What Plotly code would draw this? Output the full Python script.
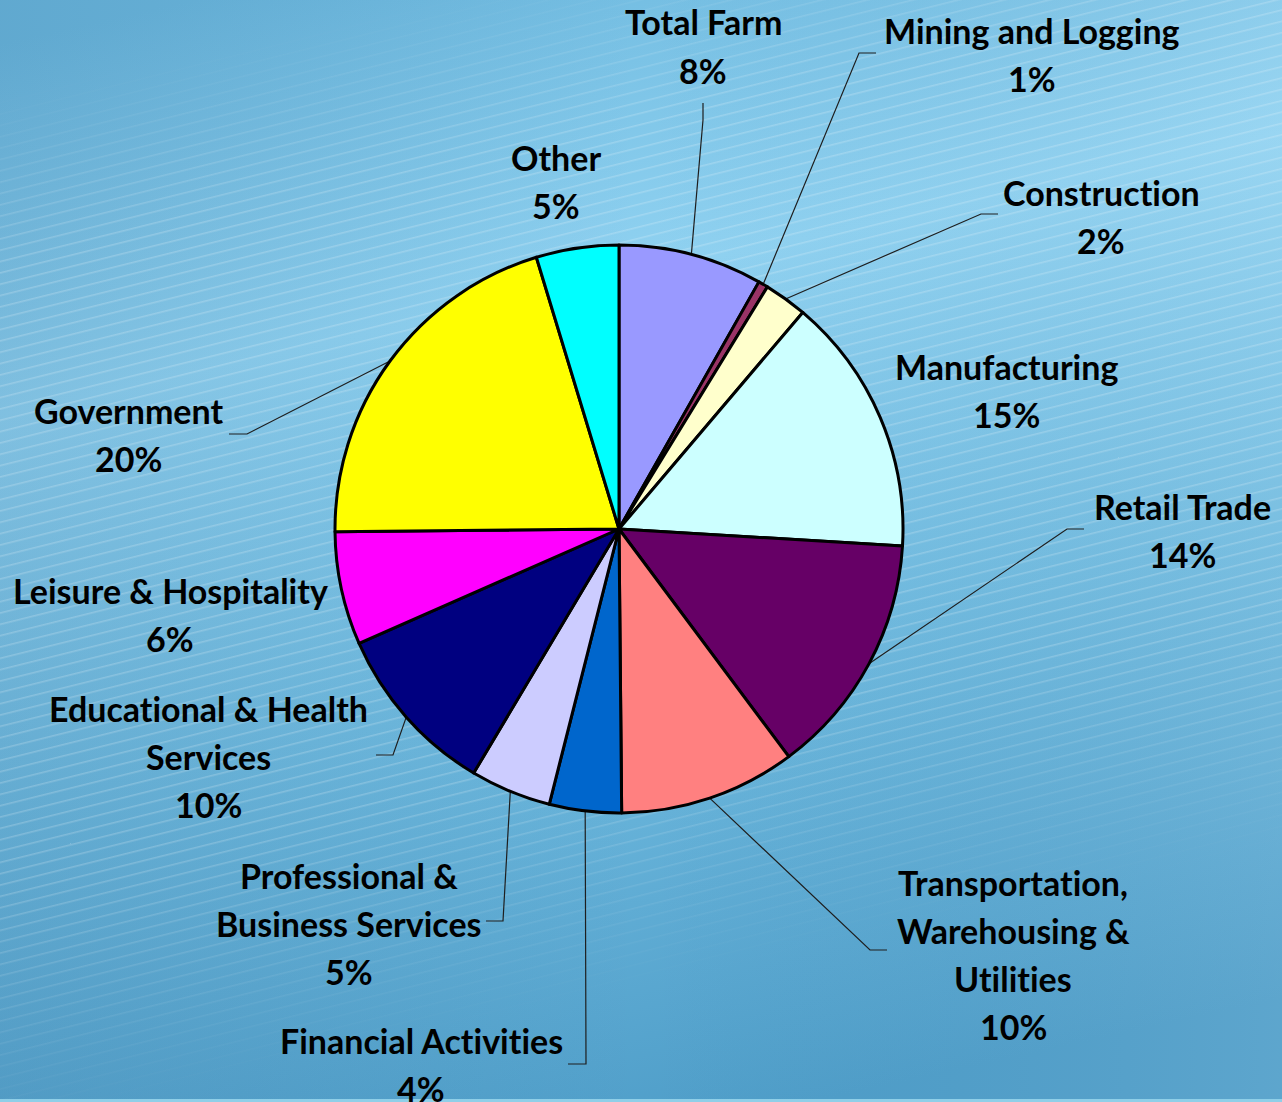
import base64
import math
import plotly.graph_objects as go

# ---------------- data ----------------
categories = ["Total Farm", "Mining and Logging", "Construction", "Manufacturing",
              "Retail Trade", "Transportation, Warehousing & Utilities",
              "Financial Activities", "Professional & Business Services",
              "Educational & Health Services", "Leisure & Hospitality",
              "Government", "Other"]
shares = [8.2, 0.55, 2.45, 14.75, 13.85, 10.05, 4.1, 4.6, 9.85, 6.45, 20.45, 4.7]
colors = ["#9999FF", "#993366", "#FFFFCC", "#CCFFFF", "#660066", "#FF8080",
          "#0066CC", "#CCCCFF", "#000080", "#FF00FF", "#FFFF00", "#00FFFF"]
label_lines = [["Total Farm"], ["Mining and Logging"], ["Construction"], ["Manufacturing"],
               ["Retail Trade"], ["Transportation,", "Warehousing &", "Utilities"],
               ["Financial Activities"], ["Professional &", "Business Services"],
               ["Educational & Health", "Services"], ["Leisure & Hospitality"],
               ["Government"], ["Other"]]

# ---------------- layout (pixels) ----------------
W, H = 1282, 1102
CX, CY, R = 619, 529, 284
# label block: centre x, first line y
label_pos = [(703, 22), (1032, 30), (1101, 192), (1006, 366), (1182, 506),
             (1013, 882), (421, 1040), (349, 875), (208, 708), (170, 590),
             (128, 410), (556, 158)]
LINE_STEP = 48
# leader lines: elbow points (None = no leader)
leaders = [[(703, 120), (703, 103)], [(859, 53), (876, 53)], [(981, 214), (998, 214)],
           None, [(1067, 529), (1084, 529)], [(870, 950), (887, 950)],
           [(586, 1064), (568, 1064)], [(503, 921), (486, 921)],
           [(393, 755), (376, 755)], None, [(247, 434), (229, 434)], None]


def px(x):
    return x / W


def py(y):
    return 1 - y / H


def no_lig(t):
    # avoid the font's "ti" ligature
    return t.replace("ti", "t\u200ci")


# ---------------- background (SVG) ----------------
svg = f"""<svg xmlns='http://www.w3.org/2000/svg' width='{W}' height='{H}' viewBox='0 0 {W} {H}'>
<defs>
<linearGradient id='g1' gradientUnits='userSpaceOnUse' x1='560' y1='-80' x2='820' y2='1100'>
<stop offset='0' stop-color='#6cb8de'/>
<stop offset='0.3' stop-color='#90d2f1'/>
<stop offset='0.62' stop-color='#6fbadf'/>
<stop offset='1' stop-color='#4f9ec9'/>
</linearGradient>
<linearGradient id='g2' x1='0' y1='0' x2='1' y2='0'>
<stop offset='0' stop-color='#0a3a66' stop-opacity='0.12'/>
<stop offset='0.5' stop-color='#0a3a66' stop-opacity='0'/>
<stop offset='1' stop-color='#ffffff' stop-opacity='0.08'/>
</linearGradient>
<pattern id='p' width='12' height='11' patternUnits='userSpaceOnUse' patternTransform='rotate(-14)'>
<rect x='0' y='0' width='12' height='1.6' fill='#ffffff' fill-opacity='0.2'/>
</pattern>
<linearGradient id='mg' gradientUnits='userSpaceOnUse' x1='560' y1='-80' x2='820' y2='1100'>
<stop offset='0.04' stop-color='#000'/>
<stop offset='0.18' stop-color='#fff'/>
<stop offset='0.68' stop-color='#fff'/>
<stop offset='0.88' stop-color='#000'/>
</linearGradient>
<mask id='m'><rect width='{W}' height='{H}' fill='url(#mg)'/></mask>
</defs>
<rect width='{W}' height='{H}' fill='url(#g1)'/>
<rect width='{W}' height='{H}' fill='url(#g2)'/>
<rect width='{W}' height='{H}' fill='url(#p)' mask='url(#m)'/>
<rect x='0' y='{H-3}' width='{W}' height='3' fill='#8fcfe8'/>
</svg>"""
bg_uri = "data:image/svg+xml;base64," + base64.b64encode(svg.encode()).decode()

# ---------------- figure ----------------
fig = go.Figure(go.Pie(
    values=shares, labels=categories, sort=False, direction="clockwise", rotation=0,
    marker=dict(colors=colors, line=dict(color="black", width=3)),
    textinfo="none", hoverinfo="label+percent", showlegend=False,
    domain=dict(x=[px(CX - R), px(CX + R)], y=[py(CY + R), py(CY - R)]),
))

total = sum(shares)
annotations = []
shapes = []
cum = 0.0
for i, v in enumerate(shares):
    pct = int(v / total * 100 + 0.5)
    mid = 2 * math.pi * (cum + v / 2) / total
    cum += v
    lx, ly = label_pos[i]
    lines = label_lines[i] + [f"{pct}%"]
    for k, t in enumerate(lines):
        annotations.append(dict(
            x=px(lx), y=py(ly + k * LINE_STEP), xref="paper", yref="paper",
            text=f"<b>{no_lig(t)}</b>", showarrow=False, xanchor="center", yanchor="middle",
            font=dict(family="Lato", size=34, color="black")))
    if leaders[i]:
        ex = CX + R * math.sin(mid)
        ey = CY - R * math.cos(mid)
        pts = [(ex, ey)] + leaders[i]
        path = "M " + " L ".join(f"{px(x):.5f},{py(y):.5f}" for x, y in pts)
        shapes.append(dict(type="path", path=path, xref="paper", yref="paper",
                           line=dict(color="#1e1e1e", width=1.2), layer="below"))

fig.update_layout(
    width=W, height=H, margin=dict(l=0, r=0, t=0, b=0),
    paper_bgcolor="#6cb8de", plot_bgcolor="rgba(0,0,0,0)",
    images=[dict(source=bg_uri, xref="paper", yref="paper", x=0, y=1,
                 sizex=1, sizey=1, xanchor="left", yanchor="top",
                 sizing="stretch", layer="below")],
    annotations=annotations, shapes=shapes,
)
fig.write_html("out.html", config={"displayModeBar": False},
               post_script="document.body.style.margin='0';document.body.style.overflow='hidden';")
